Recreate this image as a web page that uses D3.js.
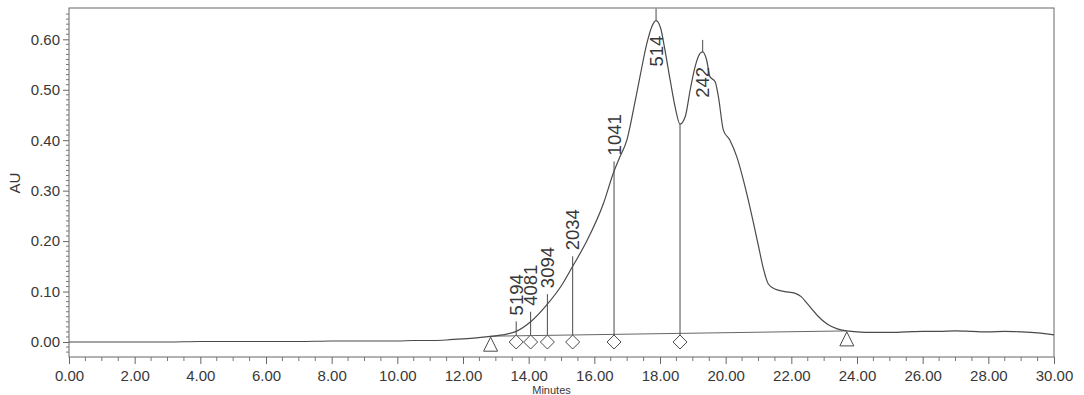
<!DOCTYPE html>
<html><head><meta charset="utf-8">
<script src="https://cdn.jsdelivr.net/npm/d3@7"></script>
<style>
body{margin:0;background:#fff}
svg{display:block}
text{font-family:Arial,"Liberation Sans",sans-serif;fill:#383838}
</style>
</head><body>
<svg id="c" width="1084" height="395"></svg>
<script>
// ---- data ----
const times = [0,1,2,3,4,5,6,7,8,9,10,10.5,11,11.5,12,12.4,12.84,13.2,13.62,14.06,14.57,15.0,15.34,15.77,16.28,16.58,16.78,16.99,17.19,17.39,17.60,17.75,17.88,18.02,18.15,18.31,18.46,18.61,18.77,18.92,19.07,19.22,19.30,19.42,19.52,19.68,19.78,19.93,20.13,20.34,20.54,20.69,20.85,21.0,21.15,21.3,21.5,21.8,22.1,22.3,22.5,22.8,23.1,23.4,23.69,24,24.5,25,25.5,26,26.5,27,27.5,28,28.5,29,29.5,30];
const signal = [0.000,0.000,0.000,0.000,0.001,0.001,0.001,0.001,0.002,0.002,0.002,0.003,0.003,0.004,0.006,0.008,0.011,0.014,0.021,0.040,0.075,0.112,0.150,0.200,0.275,0.335,0.367,0.400,0.460,0.526,0.592,0.625,0.637,0.622,0.579,0.519,0.466,0.432,0.447,0.500,0.546,0.572,0.575,0.559,0.526,0.516,0.486,0.420,0.400,0.367,0.321,0.281,0.235,0.190,0.145,0.115,0.105,0.100,0.097,0.090,0.075,0.052,0.035,0.026,0.022,0.020,0.019,0.019,0.020,0.021,0.021,0.022,0.021,0.020,0.021,0.020,0.018,0.014];
const yTicks = [0.00,0.10,0.20,0.30,0.40,0.50,0.60];
const xTicks = [0,2,4,6,8,10,12,14,16,18,20,22,24,26,28,30];
const markerTimes = [13.62,14.06,14.57,15.34,16.60,18.61];
const markerLabels = ["5194","4081","3094","2034","1041",""];
const peakTimes = [17.88,19.30];
const peakLabels = ["514","242"];
const baselineTimes = [12.84,23.69];
const baselineValues = [0.0115,0.022];
const yLabel = "AU";
const xLabel = "Minutes";

// ---- drawing ----
const svg = d3.select("#c");
const x = d3.scaleLinear().domain([0,30]).range([69,1054]);
const y = d3.scaleLinear().domain([0,0.6]).range([342,39.3]);
const frameTop = 8, frameBottom = 357;
const ink = "#4a4a4a";

function valAt(t){
  const i = d3.bisectLeft(times, t);
  if (i <= 0) return signal[0];
  if (i >= times.length) return signal[signal.length-1];
  const t0 = times[i-1], t1 = times[i];
  const f = (t - t0)/(t1 - t0);
  return signal[i-1] + f*(signal[i]-signal[i-1]);
}

// frame
svg.append("rect").attr("x",x(0)).attr("y",frameTop).attr("width",x(30)-x(0)).attr("height",frameBottom-frameTop)
  .attr("fill","none").attr("stroke","#666").attr("stroke-width",1);

// y axis
const yAxis = svg.append("g").attr("transform",`translate(${x(0)},0)`)
  .call(d3.axisLeft(y).tickValues(yTicks).tickFormat(d3.format(".2f")).tickSize(6).tickPadding(3));
yAxis.select(".domain").remove();
yAxis.selectAll("line").attr("stroke","#666");
yAxis.selectAll("text").style("font-size","15px").attr("fill","#383838");
const yMinor = d3.range(-2,66).map(d=>d/100).filter(d=>Math.round(d*100)%10!==0);
svg.append("g").selectAll("line").data(yMinor).join("line")
  .attr("x1",x(0)).attr("x2",x(0)-3).attr("y1",d=>y(d)).attr("y2",d=>y(d)).attr("stroke","#777");

// x axis
const xAxis = svg.append("g").attr("transform",`translate(0,${frameBottom})`)
  .call(d3.axisBottom(x).tickValues(xTicks).tickFormat(d3.format(".2f")).tickSize(7).tickPadding(6));
xAxis.select(".domain").remove();
xAxis.selectAll("line").attr("stroke","#666");
xAxis.selectAll("text").style("font-size","15px").attr("fill","#383838");
const xMinor = d3.range(1,60).map(d=>d/2).filter(d=>d%2!==0);
svg.append("g").selectAll("line").data(xMinor).join("line")
  .attr("x1",d=>x(d)).attr("x2",d=>x(d)).attr("y1",frameBottom).attr("y2",frameBottom+4).attr("stroke","#777");

// axis titles
svg.append("text").attr("transform",`translate(19.5,${(y(0.30)+y(0.33))/2}) rotate(-90)`)
  .attr("text-anchor","middle").style("font-size","15px").text(yLabel);
svg.append("text").attr("x",(x(0)+x(30))/2 - 10).attr("y",394).attr("text-anchor","middle")
  .style("font-size","11px").text(xLabel);

// integration baseline
svg.append("line").attr("x1",x(baselineTimes[0])).attr("y1",y(baselineValues[0]))
  .attr("x2",x(baselineTimes[1])).attr("y2",y(baselineValues[1]))
  .attr("stroke","#666").attr("stroke-width",1);

// marker lines
markerTimes.forEach((t,i)=>{
  const cx = x(t), cy = y(valAt(t));
  const yTop = markerLabels[i] ? cy - 10 : cy;
  svg.append("line").attr("x1",cx).attr("x2",cx).attr("y1",y(0)-7).attr("y2",yTop)
    .attr("stroke",ink).attr("stroke-width",1);
  if (markerLabels[i]) {
    svg.append("text").attr("transform",`translate(${cx+6.5},${cy-16}) rotate(-90)`)
      .attr("text-anchor","start").style("font-size","18.5px").text(markerLabels[i]);
  }
});

// chromatogram
const line = d3.line().x((d,i)=>x(times[i])).y(d=>y(d)).curve(d3.curveMonotoneX);
svg.append("path").datum(signal).attr("d",line).attr("fill","none").attr("stroke",ink).attr("stroke-width",1.2);

// peak apex ticks and labels
peakTimes.forEach((t,i)=>{
  const cx = x(t), cy = y(valAt(t));
  svg.append("line").attr("x1",cx).attr("x2",cx).attr("y1",cy).attr("y2",cy-12)
    .attr("stroke",ink).attr("stroke-width",1);
  svg.append("text").attr("transform",`translate(${cx+6.5},${cy+15}) rotate(-90)`)
    .attr("text-anchor","end").style("font-size","18.5px").text(peakLabels[i]);
});

// diamonds
markerTimes.forEach(t=>{
  const cx = x(t), cy = y(0), r = 7;
  svg.append("path").attr("d",`M${cx},${cy-r}L${cx+r},${cy}L${cx},${cy+r}L${cx-r},${cy}Z`)
    .attr("fill","#fff").attr("stroke",ink).attr("stroke-width",1);
});

// triangles
baselineTimes.forEach((t,i)=>{
  const cx = x(t), cy = y(baselineValues[i]) + 1;
  svg.append("path").attr("d",`M${cx},${cy}L${cx+7},${cy+14}L${cx-7},${cy+14}Z`)
    .attr("fill","#fff").attr("stroke",ink).attr("stroke-width",1);
});
</script>
</body></html>
